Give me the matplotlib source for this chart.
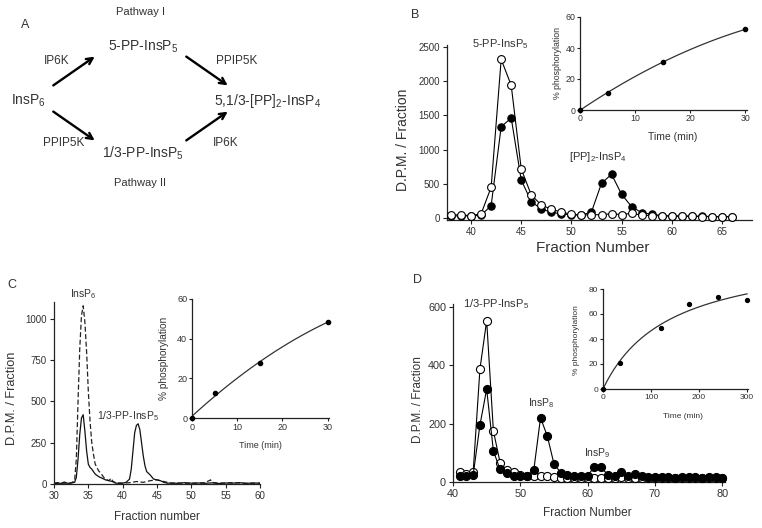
import matplotlib
matplotlib.use('Agg')
import matplotlib.pyplot as plt
import numpy as np

plt.rcParams['font.family'] = ['Liberation Sans', 'DejaVu Sans']
plt.rcParams['mathtext.fontset'] = 'custom'
plt.rcParams['mathtext.rm'] = 'Liberation Sans'
plt.rcParams['mathtext.default'] = 'regular'

W, H = 762, 528
TXT = '#333333'

# ---- panel B data ----
b_frac = list(range(38, 67))
b_open = [50, 40, 35, 60, 450, 2320, 1940, 716, 336, 190, 127, 85, 54, 45, 45, 50,
          60, 50, 68, 40, 35, 30, 25, 25, 25, 20, 20, 15, 20]
b_filled = [30, 30, 30, 40, 180, 1335, 1462, 555, 238, 132, 83, 60, 45, 40, 88, 507,
            639, 346, 165, 78, 55, 35, 30, 30, 25, 25, 20, 20, 20]
b_time = [0, 5, 15, 30]
b_phos = [0, 11, 31, 52]

# ---- panel C data ----
c_solid_x = [30, 30.5, 31, 31.5, 32, 32.5, 33, 33.25, 33.5, 33.75, 34, 34.25, 34.5, 34.75,
             35, 35.25, 35.5, 36, 36.5, 37, 37.5, 38, 38.5, 39, 39.5, 40, 40.5, 41, 41.25,
             41.5, 41.75, 42, 42.25, 42.5, 42.75, 43, 43.25, 43.5, 44, 44.5, 45, 45.5, 46,
             46.5, 47, 48, 49, 50, 51, 52, 53, 54, 55, 56, 57, 58, 59, 60]
c_solid_y = [5, 8, 3, 12, 4, 6, 10, 40, 150, 300, 400, 420, 320, 200, 120, 100, 90, 60, 45,
             35, 25, 20, 15, 5, 4, 5, 10, 30, 90, 200, 310, 355, 365, 330, 250, 170, 110,
             75, 55, 30, 25, 20, 10, 5, 6, 4, 8, 5, 6, 4, 7, 3, 6, 5, 8, 4, 6, 5]
c_dash_x = [30, 31, 32, 32.5, 33, 33.25, 33.5, 33.75, 34, 34.25, 34.5, 34.75, 35, 35.25,
            35.5, 35.75, 36, 36.5, 37, 37.25, 37.5, 38, 38.3, 38.6, 39, 40, 41, 42, 43, 44,
            45, 46, 47, 48, 50, 52, 52.8, 53, 54, 56, 58, 60]
c_dash_y = [3, 5, 4, 6, 20, 150, 500, 820, 1020, 1080, 980, 800, 560, 380, 250, 180, 120,
            80, 55, 40, 30, 20, 35, 15, 8, 5, 8, 15, 10, 20, 25, 15, 5, 6, 4, 8, 25, 10, 5,
            8, 4, 5]
c_time = [0, 5, 15, 30]
c_phos = [0, 12.5, 27.5, 48.5]

# ---- panel D data ----
d_frac = list(range(41, 81))
d_open = [35, 28, 35, 387, 553, 175, 66, 40, 35, 25, 22, 22, 20, 20, 18, 15, 15, 15, 15,
          15, 15, 15, 15, 15, 18, 15, 15, 15, 15, 15, 15, 15, 15, 15, 15, 15, 15, 15, 15, 15]
d_filled = [20, 20, 25, 195, 318, 106, 43, 30, 22, 22, 20, 41, 220, 158, 62, 32, 25, 22,
            20, 22, 52, 50, 25, 22, 35, 20, 27, 20, 18, 18, 18, 18, 15, 18, 18, 18, 15, 18,
            18, 15]
d_time = [0, 36, 120, 180, 240, 300]
d_phos = [0, 21, 49, 68, 74, 71]


def box(l, t, r, b):
    return [l / W, 1 - b / H, (r - l) / W, (b - t) / H]


def ftext(x, y, s, **kw):
    kw.setdefault('ha', 'center')
    kw.setdefault('va', 'center')
    kw.setdefault('color', TXT)
    fig.text(x / W, 1 - y / H, s, **kw)


def style(ax, fs=7, tl=3, pad=2):
    for s in ['top', 'right']:
        ax.spines[s].set_visible(False)
    for s in ['left', 'bottom']:
        ax.spines[s].set_linewidth(0.9)
        ax.spines[s].set_color('#222222')
    ax.tick_params(direction='out', length=tl, width=0.8, labelsize=fs,
                   colors='#222222', labelcolor=TXT, pad=pad)


fig = plt.figure(figsize=(7.62, 5.28), dpi=100)

# ---- panel A (scheme) ----
ftext(25, 25, 'A', fontsize=9)
ftext(140, 12, 'Pathway I', fontsize=8)
ftext(140, 183, 'Pathway II', fontsize=8)
ftext(143, 47, '5-PP-InsP$_5$', fontsize=10)
ftext(143, 153, '1/3-PP-InsP$_5$', fontsize=10)
ftext(28, 101, 'InsP$_6$', fontsize=10)
ftext(268, 101, '5,1/3-[PP]$_2$-InsP$_4$', fontsize=10)
ftext(57, 61, 'IP6K', fontsize=8.5)
ftext(237, 61, 'PPIP5K', fontsize=8.5)
ftext(64, 143, 'PPIP5K', fontsize=8.5)
ftext(226, 143, 'IP6K', fontsize=8.5)
arrows = [((51, 87), (97, 55)), ((184, 55), (230, 87)),
          ((51, 110), (97, 142)), ((184, 142), (230, 110))]
for (x0, y0), (x1, y1) in arrows:
    fig.add_artist(matplotlib.patches.FancyArrowPatch(
        (x0 / W, 1 - y0 / H), (x1 / W, 1 - y1 / H), transform=fig.transFigure,
        arrowstyle='->', mutation_scale=11, lw=1.7, color='black'))

# ---- panel B ----
ax = fig.add_axes(box(447, 45, 752, 220))
ax.plot(b_frac, b_filled, '-o', color='black', lw=0.8, ms=5.3, mfc='black', mec='black',
        mew=0.8, clip_on=False, zorder=3)
ax.plot(b_frac, b_open, '-o', color='black', lw=0.8, ms=5.6, mfc='white', mec='black',
        mew=0.8, clip_on=False, zorder=4)
ax.set_xlim(37.6, 68)
ax.set_ylim(-30, 2530)
ax.set_xticks([40, 45, 50, 55, 60, 65])
ax.set_yticks([0, 500, 1000, 1500, 2000, 2500])
style(ax)
ftext(415, 15, 'B', fontsize=9)
ftext(403, 140, 'D.P.M. / Fraction', fontsize=10, rotation=90)
ftext(593, 248, 'Fraction Number', fontsize=11)
ftext(500, 44, '5-PP-InsP$_5$', fontsize=8)
ftext(598, 157, '[PP]$_2$-InsP$_4$', fontsize=8)

ax = fig.add_axes(box(580, 17, 747, 110))
fit = np.polyfit(b_time, b_phos, 2)
tt = np.linspace(0, 30, 100)
ax.plot(tt, np.polyval(fit, tt), color='#333333', lw=0.9)
ax.plot(b_time, b_phos, 'o', color='black', ms=3, clip_on=False, zorder=4)
ax.set_xlim(0, 30.3)
ax.set_ylim(0, 60)
ax.set_xticks([0, 10, 20, 30])
ax.set_yticks([0, 20, 40, 60])
style(ax, 6.3, tl=2, pad=1.2)
ftext(673, 137, 'Time (min)', fontsize=7.5)
ftext(558, 63, '% phosphorylation', fontsize=6.3, rotation=90)

# ---- panel C ----
ax = fig.add_axes(box(54, 302, 260, 484))
ax.plot(c_dash_x, c_dash_y, '--', color='#222222', lw=0.9, dashes=(4, 2))
ax.plot(c_solid_x, c_solid_y, '-', color='#111111', lw=0.9)
ax.set_xlim(30, 60)
ax.set_ylim(0, 1103)
ax.set_xticks([30, 35, 40, 45, 50, 55, 60])
ax.set_yticks([0, 250, 500, 750, 1000])
style(ax)
ftext(12, 285, 'C', fontsize=9)
ftext(12, 398, 'D.P.M. / Fraction', fontsize=9.2, rotation=90)
ftext(157, 517, 'Fraction number', fontsize=8.5)
ftext(83, 294, 'InsP$_6$', fontsize=7.5)
ftext(128, 416, '1/3-PP-InsP$_5$', fontsize=7.5)

ax = fig.add_axes(box(192, 299, 329, 418))
fit = np.polyfit(c_time, c_phos, 2)
ax.plot(tt, np.polyval(fit, tt), color='#333333', lw=0.9)
ax.plot(c_time, c_phos, 'o', color='black', ms=3, clip_on=False, zorder=4)
ax.set_xlim(0, 30.3)
ax.set_ylim(0, 60)
ax.set_xticks([0, 10, 20, 30])
ax.set_yticks([0, 20, 40, 60])
style(ax, 6.5, tl=2, pad=1.5)
ftext(260, 445, 'Time (min)', fontsize=6.5)
ftext(164, 358, '% phosphorylation', fontsize=7.3, rotation=90)

# ---- panel D ----
ax = fig.add_axes(box(453, 304, 725, 482))
ax.plot(d_frac, d_open, '-o', color='black', lw=0.8, ms=5.8, mfc='white', mec='black',
        mew=0.8, clip_on=False, zorder=3)
ax.plot(d_frac, d_filled, '-o', color='black', lw=0.8, ms=5.8, mfc='black', mec='black',
        mew=0.8, clip_on=False, zorder=4)
ax.set_xlim(40, 80.4)
ax.set_ylim(0, 610)
ax.set_xticks([40, 50, 60, 70, 80])
ax.set_yticks([0, 200, 400, 600])
style(ax, 7.8)
ftext(418, 280, 'D', fontsize=9)
ftext(418, 400, 'D.P.M. / Fraction', fontsize=8.5, rotation=90)
ftext(587, 513, 'Fraction Number', fontsize=8.6)
ftext(496, 304, '1/3-PP-InsP$_5$', fontsize=8)
ftext(541, 403, 'InsP$_8$', fontsize=7.5)
ftext(597, 453, 'InsP$_9$', fontsize=7.5)

# hyperbolic fit for the inset
dx = np.array(d_time, dtype=float)
dy = np.array(d_phos, dtype=float)
best = None
for kb in np.linspace(5, 1000, 2000):
    g = dx / (kb + dx)
    a = np.sum(dy * g) / np.sum(g * g)
    err = np.sum((dy - a * g) ** 2)
    if best is None or err < best[0]:
        best = (err, a, kb)
_, ka, kb = best
ax = fig.add_axes(box(603, 289, 748, 389))
ts = np.linspace(0, 300, 200)
ax.plot(ts, ka * ts / (kb + ts), color='#333333', lw=0.9)
ax.plot(d_time, d_phos, 'o', color='black', ms=2.8, clip_on=False, zorder=4)
ax.set_xlim(0, 302)
ax.set_ylim(0, 80)
ax.set_xticks([0, 100, 200, 300])
ax.set_yticks([0, 20, 40, 60, 80])
style(ax, 6, tl=2, pad=1.5)
ftext(683, 417, 'Time (min)', fontsize=6)
ftext(577, 340, '% phosphorylation', fontsize=6, rotation=90)

fig.savefig('out.png', dpi=100)
